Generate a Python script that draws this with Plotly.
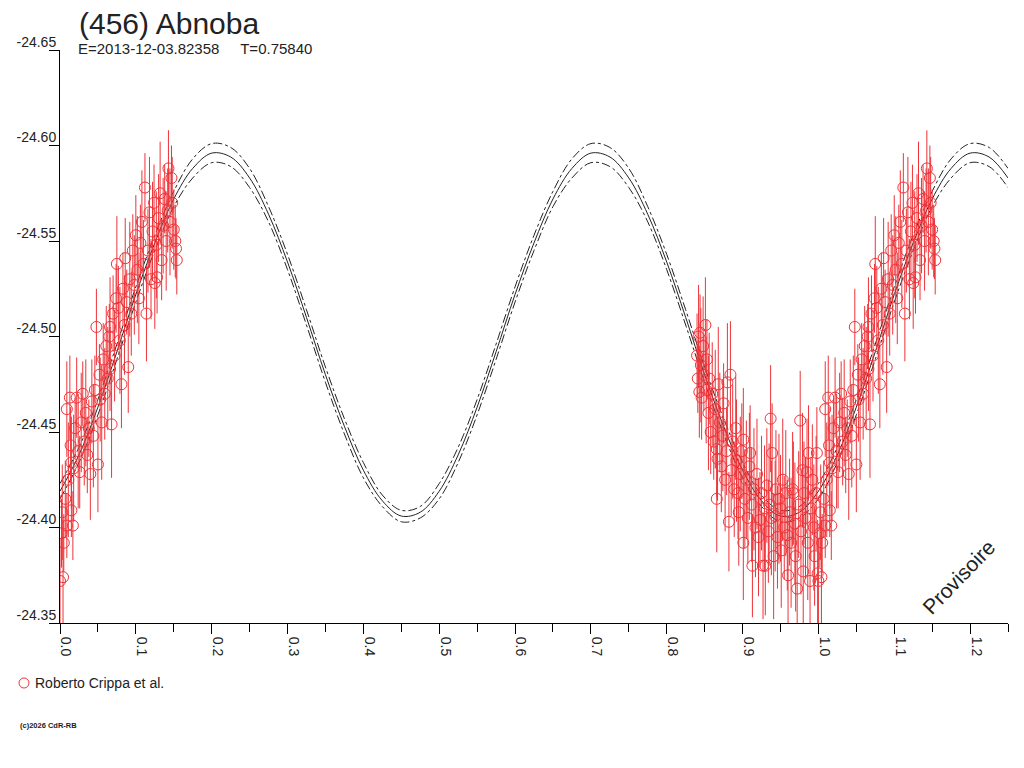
import plotly.graph_objects as go

# rotational phase / reduced magnitude of (456) Abnoba, Roberto Crippa et al.
phase_a = [0.000, 0.002, 0.003, 0.004, 0.005, 0.007, 0.009, 0.009, 0.011, 0.013,
           0.014, 0.015, 0.015, 0.017, 0.018, 0.020, 0.022, 0.024, 0.026, 0.028,
           0.030, 0.032, 0.034, 0.036, 0.038, 0.040, 0.042, 0.044, 0.046, 0.048,
           0.050, 0.052, 0.053, 0.055, 0.057, 0.059, 0.061, 0.063, 0.065, 0.066,
           0.066, 0.068, 0.070, 0.072, 0.074, 0.075, 0.077, 0.079, 0.081, 0.083,
           0.085, 0.086, 0.088, 0.090, 0.092, 0.094, 0.096, 0.098, 0.100, 0.102,
           0.104, 0.106, 0.108, 0.110, 0.112, 0.114, 0.116, 0.118, 0.120, 0.122,
           0.124, 0.125, 0.127, 0.128, 0.130, 0.132, 0.134, 0.136, 0.138, 0.140,
           0.142, 0.143, 0.145, 0.147, 0.148, 0.150, 0.152, 0.153, 0.154]
mag_a = [-24.372, -24.397, -24.408, -24.374, -24.392, -24.415, -24.401, -24.462, -24.425, -24.468,
         -24.443, -24.409, -24.434, -24.401, -24.431, -24.452, -24.468, -24.440, -24.429, -24.455,
         -24.470, -24.445, -24.460, -24.438, -24.452, -24.428, -24.466, -24.448, -24.472, -24.505,
         -24.433, -24.480, -24.467, -24.455, -24.488, -24.470, -24.495, -24.478, -24.500, -24.483,
         -24.505, -24.454, -24.512, -24.490, -24.520, -24.538, -24.515, -24.498, -24.475, -24.525,
         -24.506, -24.541, -24.518, -24.484, -24.530, -24.512, -24.545, -24.527, -24.553, -24.535,
         -24.520, -24.549, -24.560, -24.538, -24.578, -24.512, -24.545, -24.565, -24.530, -24.555,
         -24.570, -24.528, -24.548, -24.531, -24.562, -24.575, -24.540, -24.558, -24.572, -24.550,
         -24.566, -24.588, -24.560, -24.583, -24.570, -24.556, -24.550, -24.546, -24.540]
err_a = [0.022, 0.018, 0.025, 0.030, 0.015, 0.020, 0.017, 0.025, 0.030, 0.022,
         0.020, 0.014, 0.024, 0.018, 0.028, 0.016, 0.021, 0.030, 0.019, 0.026,
         0.017, 0.023, 0.028, 0.020, 0.015, 0.024, 0.022, 0.027, 0.018, 0.020,
         0.025, 0.016, 0.022, 0.030, 0.019, 0.024, 0.021, 0.027, 0.017, 0.022,
         0.026, 0.028, 0.020, 0.024, 0.018, 0.025, 0.022, 0.028, 0.023, 0.019,
         0.026, 0.021, 0.017, 0.024, 0.030, 0.022, 0.019, 0.026, 0.021, 0.028,
         0.024, 0.020, 0.027, 0.023, 0.018, 0.025, 0.022, 0.029, 0.021, 0.026,
         0.020, 0.024, 0.028, 0.019, 0.023, 0.027, 0.021, 0.025, 0.018, 0.026,
         0.022, 0.020, 0.028, 0.017, 0.024, 0.021, 0.019, 0.016, 0.018]

phase_b = [0.840, 0.841, 0.842, 0.843, 0.844, 0.845, 0.846, 0.848, 0.849, 0.851,
           0.852, 0.853, 0.855, 0.856, 0.858, 0.860, 0.862, 0.864, 0.866, 0.866,
           0.867, 0.868, 0.870, 0.872, 0.874, 0.875, 0.877, 0.879, 0.880, 0.882,
           0.884, 0.885, 0.887, 0.889, 0.891, 0.892, 0.894, 0.895, 0.897, 0.899,
           0.901, 0.901, 0.903, 0.905, 0.907, 0.909, 0.910, 0.912, 0.913, 0.915,
           0.917, 0.919, 0.921, 0.923, 0.925, 0.927, 0.929, 0.930, 0.932, 0.934,
           0.935, 0.937, 0.938, 0.939, 0.941, 0.943, 0.944, 0.946, 0.948, 0.950,
           0.951, 0.953, 0.955, 0.957, 0.959, 0.960, 0.962, 0.964, 0.966, 0.967,
           0.969, 0.970, 0.972, 0.974, 0.976, 0.977, 0.979, 0.980, 0.981, 0.983,
           0.985, 0.986, 0.987, 0.989, 0.990, 0.992, 0.994, 0.995, 0.997, 0.998,
           0.999]
mag_b = [-24.490, -24.478, -24.500, -24.471, -24.502, -24.485, -24.468, -24.495, -24.480, -24.506,
         -24.472, -24.488, -24.460, -24.478, -24.450, -24.470, -24.445, -24.462, -24.441, -24.415,
         -24.436, -24.475, -24.455, -24.432, -24.448, -24.465, -24.425, -24.440, -24.476, -24.403,
         -24.480, -24.430, -24.445, -24.420, -24.452, -24.435, -24.418, -24.408, -24.428, -24.440,
         -24.446, -24.392, -24.415, -24.425, -24.405, -24.432, -24.439, -24.412, -24.380, -24.420,
         -24.400, -24.428, -24.395, -24.404, -24.418, -24.380, -24.410, -24.380, -24.422, -24.398,
         -24.412, -24.457, -24.405, -24.439, -24.385, -24.406, -24.420, -24.395, -24.415, -24.410,
         -24.388, -24.425, -24.400, -24.418, -24.396, -24.375, -24.408, -24.392, -24.420, -24.418,
         -24.402, -24.385, -24.368, -24.412, -24.456, -24.398, -24.430, -24.377, -24.418, -24.405,
         -24.429, -24.392, -24.439, -24.372, -24.410, -24.425, -24.400, -24.385, -24.418, -24.439,
         -24.376]
err_b = [0.022, 0.018, 0.027, 0.024, 0.020, 0.030, 0.022, 0.026, 0.019, 0.025,
         0.028, 0.021, 0.030, 0.024, 0.022, 0.027, 0.020, 0.031, 0.025, 0.028,
         0.022, 0.030, 0.026, 0.024, 0.029, 0.021, 0.027, 0.023, 0.031, 0.026,
         0.028, 0.024, 0.030, 0.025, 0.027, 0.032, 0.024, 0.028, 0.030, 0.025,
         0.027, 0.030, 0.026, 0.031, 0.024, 0.028, 0.025, 0.030, 0.027, 0.032,
         0.026, 0.029, 0.031, 0.025, 0.030, 0.028, 0.033, 0.026, 0.030, 0.027,
         0.032, 0.028, 0.030, 0.026, 0.033, 0.029, 0.031, 0.027, 0.034, 0.028,
         0.030, 0.032, 0.027, 0.033, 0.029, 0.031, 0.028, 0.034, 0.030, 0.027,
         0.032, 0.029, 0.031, 0.028, 0.026, 0.033, 0.030, 0.029, 0.027, 0.032,
         0.028, 0.030, 0.025, 0.031, 0.027, 0.029, 0.033, 0.026, 0.030, 0.024,
         0.028]

# fitted lightcurve over one cycle (phase step 0.025) and its dash-dot envelope
fit_phase = [i * 0.025 for i in range(41)]
fit_mag = [-24.419, -24.438, -24.463, -24.492, -24.522, -24.549, -24.572, -24.588, -24.596, -24.594,
           -24.583, -24.564, -24.539, -24.510, -24.480, -24.453, -24.430, -24.414, -24.406, -24.408,
           -24.419, -24.438, -24.463, -24.492, -24.522, -24.549, -24.572, -24.588, -24.596, -24.594,
           -24.583, -24.564, -24.539, -24.510, -24.480, -24.453, -24.430, -24.414, -24.406, -24.408,
           -24.419]
fit_hi = [-24.423, -24.442, -24.467, -24.496, -24.526, -24.553, -24.576, -24.593, -24.601, -24.599,
          -24.588, -24.568, -24.543, -24.514, -24.484, -24.457, -24.434, -24.417, -24.409, -24.411,
          -24.423, -24.442, -24.467, -24.496, -24.526, -24.553, -24.576, -24.593, -24.601, -24.599,
          -24.588, -24.568, -24.543, -24.514, -24.484, -24.457, -24.434, -24.417, -24.409, -24.411,
          -24.423]
fit_lo = [-24.415, -24.434, -24.459, -24.488, -24.518, -24.545, -24.568, -24.583, -24.591, -24.589,
          -24.578, -24.560, -24.535, -24.506, -24.476, -24.449, -24.426, -24.411, -24.403, -24.405,
          -24.415, -24.434, -24.459, -24.488, -24.518, -24.545, -24.568, -24.583, -24.591, -24.589,
          -24.578, -24.560, -24.535, -24.506, -24.476, -24.449, -24.426, -24.411, -24.403, -24.405,
          -24.415]

x_ticks = [0.0, 0.1, 0.2, 0.3, 0.4, 0.5, 0.6, 0.7, 0.8, 0.9, 1.0, 1.1, 1.2]
y_ticks = [-24.65, -24.60, -24.55, -24.50, -24.45, -24.40, -24.35]

PHASE_MAX = 1.25
RED = "#EE3338"
FONT = "Liberation Sans, Arial, sans-serif"


def wrap(ph, vals):
    # phase diagram runs past 1.0, so repeat the start of the cycle
    xs, ys = list(ph), list(vals)
    for p, v in zip(ph, vals):
        if p + 1 <= PHASE_MAX:
            xs.append(p + 1)
            ys.append(v)
    return xs, ys


fig = go.Figure()

fx, fy = wrap(fit_phase[:-1], fit_mag[:-1])
hx, hy = wrap(fit_phase[:-1], fit_hi[:-1])
lx, ly = wrap(fit_phase[:-1], fit_lo[:-1])
order = sorted(range(len(fx)), key=lambda i: fx[i])
for ys, dash in [(hy, "dashdot"), (ly, "dashdot"), (fy, "solid")]:
    fig.add_trace(go.Scatter(
        x=[fx[i] for i in order], y=[ys[i] for i in order],
        mode="lines", line=dict(color="#222222", width=1, dash=dash, shape="spline"),
        showlegend=False, hoverinfo="skip"))

ph_all = phase_a + phase_b
mag_all = mag_a + mag_b
err_all = err_a + err_b
dx, dy = wrap(ph_all, mag_all)
_, de = wrap(ph_all, err_all)

fig.add_trace(go.Scatter(
    x=dx, y=dy, mode="markers",
    marker=dict(symbol="circle-open", size=11, color=RED, line=dict(width=1, color=RED)),
    error_y=dict(type="data", array=de, visible=True, color=RED, thickness=1, width=0),
    showlegend=False))

# page body adds an 8px margin, so the figure is drawn 8px smaller
fig.update_layout(
    width=1016, height=760,
    margin=dict(l=52, r=16, t=42, b=145),
    paper_bgcolor="white", plot_bgcolor="white",
    font=dict(family=FONT, color="#222222"),
    showlegend=False,
)

fig.update_xaxes(
    range=[0, PHASE_MAX], showgrid=False, zeroline=False, automargin=False,
    showline=True, linecolor="#000000", linewidth=1,
    ticks="outside", ticklen=10, tickcolor="#000000",
    tickvals=x_ticks, ticktext=[f"{v:.1f}" for v in x_ticks],
    tickangle=90, tickfont=dict(size=14, color="#222222"),
    ticklabelshift=6,
    minor=dict(ticks="outside", ticklen=8, tickcolor="#000000", dtick=0.05, tick0=0, showgrid=False),
)
fig.update_yaxes(
    range=[-24.35, -24.65], showgrid=False, zeroline=False, automargin=False,
    showline=True, linecolor="#000000", linewidth=1,
    ticks="outside", ticklen=10, tickcolor="#000000",
    tickvals=y_ticks, ticktext=[f"{v:.2f}" for v in y_ticks],
    tickfont=dict(size=14, color="#222222"),
    ticklabelstandoff=-10, ticklabelshift=8,
)

fig.add_annotation(text="(456) Abnoba", xref="paper", yref="paper",
                   x=17 / 948, y=(623 - 23) / 573, xanchor="left", yanchor="middle",
                   showarrow=False, font=dict(size=30, color="#222222"))
fig.add_annotation(text="E=2013-12-03.82358\u00a0\u00a0\u00a0\u00a0\u00a0T=0.75840", xref="paper", yref="paper",
                   x=16 / 948, y=(623 - 48) / 573, xanchor="left", yanchor="middle",
                   showarrow=False, font=dict(size=15, color="#222222"))
fig.add_annotation(text="Provisoire", xref="paper", yref="paper",
                   x=(958 - 60) / 948, y=(623 - 577) / 573, xanchor="center", yanchor="middle",
                   textangle=-46, showarrow=False, font=dict(size=21, color="#222222"))
fig.add_annotation(text="Roberto Crippa et al.", xref="paper", yref="paper",
                   x=(33 - 60) / 948, y=(623 - 683) / 573, xanchor="left", yanchor="middle",
                   showarrow=False, font=dict(size=14, color="#222222"))
fig.add_annotation(text="<b>(c)2026 CdR-RB</b>", xref="paper", yref="paper",
                   x=(18 - 60) / 948, y=(623 - 725) / 573, xanchor="left", yanchor="middle",
                   showarrow=False, font=dict(size=7.5, color="#222222"))
# legend symbol
fig.add_shape(type="circle", xref="paper", yref="paper",
              xsizemode="pixel", ysizemode="pixel",
              xanchor=(24 - 60) / 948, yanchor=(623 - 683) / 573,
              x0=-5, x1=5, y0=-5, y1=5, line=dict(color=RED, width=1))

fig.write_html("out.html")
